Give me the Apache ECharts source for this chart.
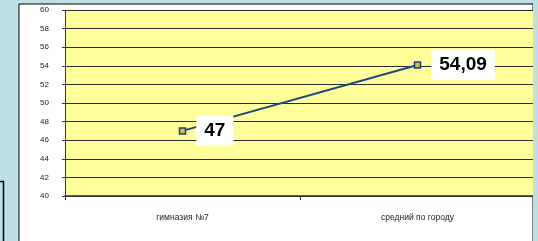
<!DOCTYPE html>
<html>
<head>
<meta charset="utf-8">
<script src="https://cdn.jsdelivr.net/npm/echarts@6/dist/echarts.min.js"></script>
<style>
  html, body { margin: 0; padding: 0; background: #bde0e3; }
  #main { width: 538px; height: 241px; }
</style>
</head>
<body>
<div id="main"></div>
<script>
var categories = ['гимназия №7', 'средний по городу'];
var values = [47, 54.09];
var yTicks = { min: 40, max: 60, step: 2 };

var chart = echarts.init(document.getElementById('main'), null, { renderer: 'canvas' });

chart.setOption({
  backgroundColor: '#bde0e3',
  animation: false,
  graphic: [
    // white panel of the slide
    { type: 'rect', shape: { x: 19, y: 4, width: 514, height: 240 },
      style: { fill: '#ffffff', stroke: '#000', lineWidth: 1 }, z: -10 },
    // piece of a box behind on the left
    { type: 'polyline', shape: { points: [[0, 181.5], [3.5, 181.5], [3.5, 241]] },
      style: { stroke: '#000', lineWidth: 1.5, fill: null }, z: -10 },
    // blue strip covering the right edge
    { type: 'rect', shape: { x: 533, y: 0, width: 10, height: 241 },
      style: { fill: '#bde0e3' }, z: 100 }
  ],
  grid: {
    left: 65, right: 3, top: 10, bottom: 45,
    show: true, backgroundColor: '#ffff99', borderWidth: 0
  },
  xAxis: {
    type: 'category',
    data: categories,
    boundaryGap: true,
    axisLine: { lineStyle: { color: '#333', width: 1.5 } },
    axisTick: { show: true, length: 4, lineStyle: { color: '#333' } },
    axisLabel: {
      color: '#222', fontSize: 8.5, fontFamily: 'Arial, Liberation Sans', margin: 17
    }
  },
  yAxis: {
    type: 'value',
    min: yTicks.min, max: yTicks.max, interval: yTicks.step,
    axisLine: { show: true, lineStyle: { color: '#333', width: 1 } },
    axisTick: { show: true, length: 3, lineStyle: { color: '#333' } },
    axisLabel: {
      color: '#222', fontSize: 8, fontFamily: 'Arial, Liberation Sans', margin: 16
    },
    splitLine: { show: true, lineStyle: { color: '#2a2a2a', width: 1 } }
  },
  series: [{
    type: 'line',
    data: values,
    symbol: 'rect',
    symbolSize: 6,
    lineStyle: { color: '#1b4a7a', width: 2 },
    itemStyle: { color: '#c8c83a', borderColor: '#1b3a8a', borderWidth: 1.5 },
    label: {
      show: true,
      position: 'right',
      distance: 10,
      formatter: function (p) { return String(p.value).replace('.', ','); },
      backgroundColor: '#ffffff',
      padding: [6, 8, 5, 8],
      color: '#000',
      fontSize: 19,
      fontWeight: 'bold',
      fontFamily: 'Arial, Liberation Sans'
    }
  }]
});
</script>
</body>
</html>
